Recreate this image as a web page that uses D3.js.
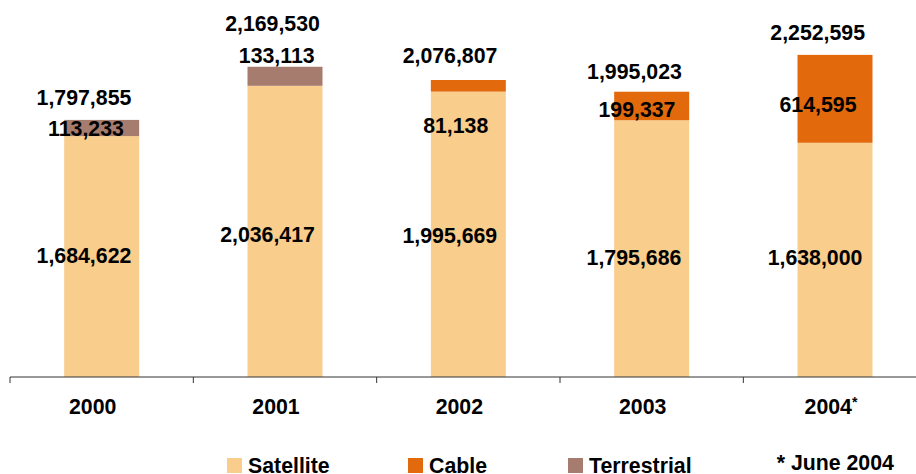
<!DOCTYPE html>
<html><head><meta charset="utf-8">
<script src="https://cdn.jsdelivr.net/npm/d3@7"></script>
<style>
html,body{margin:0;padding:0;background:#fff;}
svg{display:block;}
text{font-family:"Liberation Sans",Arial,sans-serif;font-weight:bold;fill:#000;}
</style></head>
<body>
<svg id="chart" width="916" height="474"></svg>
<script>
// ---- data ----
const years = ["2000", "2001", "2002", "2003", "2004"];
const seriesNames = ["Satellite", "Cable", "Terrestrial"];
const satellite = [1684622, 2036417, 1995669, 1795686, 1638000];
const cable = [0, 0, 81138, 199337, 614595];
const terrestrial = [113233, 133113, 0, 0, 0];
const totals = [1797855, 2169530, 2076807, 1995023, 2252595];
const footnote = "* June 2004";
const starredYear = "2004";

// ---- style / layout ----
const colors = {Satellite: "#F9CD8C", Cable: "#E2690C", Terrestrial: "#A67C6E"};
const fontSize = 21.3;
// per-label nudges [dx from band centre, dy from segment middle] (layout only)
const nudge = {
  "Satellite-2000": [-17.7, 6.5], "Satellite-2001": [-17.5, 10.6], "Satellite-2002": [-18.5, 8.7],
  "Satellite-2003": [-17.7, 16.4], "Satellite-2004": [-20, 5.1],
  "Terrestrial-2000": [-15.7, 8], "Terrestrial-2001": [-8.3, -13.3],
  "Cable-2002": [-12.6, 47.5], "Cable-2003": [-14.7, 10.7], "Cable-2004": [-17, 12.8]
};
const totalNudge = {"2000": [-17.7, -14.9], "2001": [-12.5, -35.8], "2002": [-18.3, -17],
                    "2003": [-17.2, -12.7], "2004": [-17.3, -14.9]};

const svg = d3.select("#chart");
const baseY = 377;

const x = d3.scaleBand().domain(years).range([10, 926.67])
  .paddingInner(0.591).paddingOuter(0.2955);
const y = d3.scaleLinear().domain([0, 2600000]).range([baseY, baseY - 2.6 * 143]);

const table = years.map((yr, i) => ({year: yr, Satellite: satellite[i], Cable: cable[i], Terrestrial: terrestrial[i]}));
const stack = d3.stack().keys(seriesNames)(table);

// bars
const layers = svg.append("g").selectAll("g").data(stack).join("g")
  .attr("fill", d => colors[d.key]);
layers.selectAll("rect").data(d => d.map(s => ({key: d.key, s}))).join("rect")
  .attr("x", d => x(d.s.data.year))
  .attr("width", x.bandwidth())
  .attr("y", d => y(d.s[1]))
  .attr("height", d => y(d.s[0]) - y(d.s[1]));

// axis
const axis = d3.axisBottom(x).tickSize(0).tickFormat("");
const gx = svg.append("g").attr("transform", `translate(0,${baseY})`).call(axis);
gx.select(".domain").remove();
gx.append("line").attr("x1", 10).attr("x2", 916).attr("stroke", "#333").attr("stroke-width", 1);
const step = x.step();
const bounds = d3.range(years.length + 1).map(i => x.range()[0] + i * step);
gx.selectAll("line.tk").data(bounds).join("line").attr("class", "tk")
  .attr("x1", d => d).attr("x2", d => d).attr("y1", 0).attr("y2", 6)
  .attr("stroke", "#333").attr("stroke-width", 1);

// category labels
const cat = svg.append("g").selectAll("text").data(years).join("text")
  .attr("x", d => x(d) + x.bandwidth() / 2 - 9)
  .attr("y", 414)
  .attr("text-anchor", "middle")
  .style("font-size", fontSize + "px");
cat.append("tspan").text(d => d);
cat.filter(d => d === starredYear).attr("x", d => x(d) + x.bandwidth() / 2 - 4)
  .append("tspan").attr("dy", -7).style("font-size", "14px").text("*");

// segment labels
const fmt = d3.format(",");
const segLabels = [];
stack.forEach(layer => layer.forEach(s => {
  const v = s[1] - s[0];
  if (v > 0) {
    const k = layer.key + "-" + s.data.year;
    const n = nudge[k] || [-17, 7];
    segLabels.push({v, x: x(s.data.year) + x.bandwidth() / 2 + n[0], y: (y(s[0]) + y(s[1])) / 2 + n[1]});
  }
}));
svg.append("g").selectAll("text").data(segLabels).join("text")
  .attr("x", d => d.x).attr("y", d => d.y).attr("text-anchor", "middle")
  .style("font-size", fontSize + "px").text(d => fmt(d.v));

// total labels
svg.append("g").selectAll("text").data(years).join("text")
  .attr("x", (d) => x(d) + x.bandwidth() / 2 + totalNudge[d][0])
  .attr("y", (d, i) => y(totals[i]) + totalNudge[d][1])
  .attr("text-anchor", "middle")
  .style("font-size", fontSize + "px").text((d, i) => fmt(totals[i]));

// legend
const legendX = [227, 408, 568];
const lg = svg.append("g").selectAll("g").data(seriesNames).join("g")
  .attr("transform", (d, i) => `translate(${legendX[i]},458)`);
lg.append("rect").attr("width", 15).attr("height", 15).attr("fill", d => colors[d]);
lg.append("text").attr("x", 21).attr("y", 14.7).style("font-size", fontSize + "px").text(d => d);

// footnote
svg.append("text").attr("x", 776.7).attr("y", 470).style("font-size", fontSize + "px").text(footnote);
</script>
</body></html>
